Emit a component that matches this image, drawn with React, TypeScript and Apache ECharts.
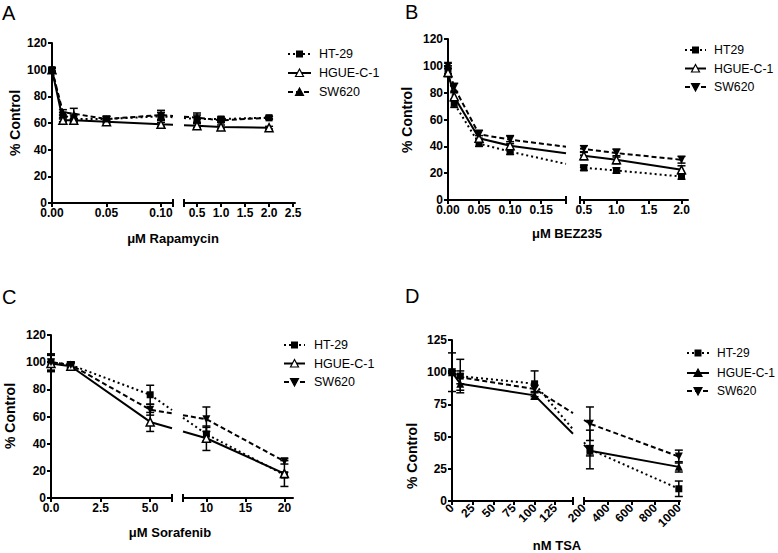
import { useEffect, useRef } from "react";
import * as echarts from "echarts";

const FONT = "'Liberation Sans', Arial, Helvetica, sans-serif";

// ---------------- Panel A : Rapamycin (µM) ----------------
const A_DOSE = [0, 0.01, 0.02, 0.05, 0.1, 0.5, 1.0, 2.0];
const A_HT29 = [100, 66, 63, 63, 65, 63, 63, 64];
const A_HT29_ERR = [1.5, 2, 3, 2, 3, 3, 1.5, 1];
const A_HGUE = [100, 62, 62, 61, 59, 58, 57, 56.5];
const A_HGUE_ERR = [1, 1, 1, 1, 1.5, 1.5, 1.5, 1];
const A_SW620 = [100, 68, 67, 63, 66, 64, 62, 64];
const A_SW620_ERR = [1.5, 2, 4, 2, 3.5, 3.5, 1.5, 1];
const A_TICKS_LOW = [0, 0.05, 0.1];
const A_TICKS_HIGH = [0.5, 1.0, 1.5, 2.0, 2.5];

// ---------------- Panel B : BEZ235 (µM) ----------------
const B_DOSE = [0, 0.01, 0.05, 0.1, 0.5, 1.0, 2.0];
const B_HT29 = [97, 72, 42, 36, 24, 22, 17.5];
const B_HT29_ERR = [3, 3, 2, 2, 2, 2, 2];
const B_HGUE = [95, 77, 46, 40.5, 33, 30, 22.5];
const B_HGUE_ERR = [3, 3, 2, 3, 3, 3, 3];
const B_SW620 = [100, 84, 49, 45, 38, 35, 30];
const B_SW620_ERR = [2, 3, 3, 3, 2.5, 3, 2.5];
const B_TICKS_LOW = [0, 0.05, 0.1, 0.15];
const B_TICKS_HIGH = [0.5, 1.0, 1.5, 2.0];

// ---------------- Panel C : Sorafenib (µM) ----------------
const C_DOSE = [0, 1, 5, 10, 20];
const C_HT29 = [100, 98, 76, 47, 17];
const C_HT29_ERR = [6, 2, 7, 5, 2];
const C_HGUE = [99, 97, 56, 44, 18];
const C_HGUE_ERR = [6, 2, 7, 9, 9.5];
const C_SW620 = [100, 98, 65, 58, 27];
const C_SW620_ERR = [6, 2, 4, 9, 2];
const C_TICKS_LOW = [0, 2.5, 5];
const C_TICKS_HIGH = [10, 15, 20];

// ---------------- Panel D : TSA (nM) ----------------
const D_DOSE = [0, 10, 100, 250, 1000];
const D_HT29 = [100, 97, 91, 40, 9.5];
const D_HT29_ERR = [15, 13, 10, 15, 6];
const D_HGUE = [100, 91, 82, 39, 26.5];
const D_HGUE_ERR = [1, 5, 3, 4, 4];
const D_SW620 = [100, 96, 87, 60, 34.5];
const D_SW620_ERR = [1, 5, 3, 13, 5];
const D_TICKS_LOW = [0, 25, 50, 75, 100, 125];
const D_TICKS_HIGH = [200, 400, 600, 800, 1000];

// ---------------- styles ----------------
type Mark = { symbol: string; size: number; rotate: number; hollow: boolean; dash: any };
const SQUARE_DOTTED: Mark = { symbol: "rect", size: 7, rotate: 0, hollow: false, dash: [2, 3] };
const TRI_OPEN_SOLID: Mark = { symbol: "triangle", size: 8, rotate: 0, hollow: true, dash: "solid" };
const TRI_FILLED_SOLID: Mark = { symbol: "triangle", size: 8, rotate: 0, hollow: false, dash: "solid" };
const TRI_UP_DASHED: Mark = { symbol: "triangle", size: 7, rotate: 0, hollow: false, dash: [5, 3] };
const TRI_DOWN_DASHED: Mark = { symbol: "triangle", size: 8, rotate: 180, hollow: false, dash: [5, 3] };

type Seg = { left: number; width: number; min: number; max: number };

const PANELS = [
  {
    letter: "A", letterPos: [2, 12.5], xName: "\u03BCM Rapamycin", xNamePos: [173, 238], yNamePos: [15, 123],
    top: 43, height: 160, yMax: 120, yInterval: 20,
    seg1: { left: 52, width: 121, min: 0, max: 0.111 }, seg2: { left: 184, width: 111, min: 0.23, max: 2.54 },
    ticks1: A_TICKS_LOW, ticks2: A_TICKS_HIGH, digits1: 2, digits2: 1, rotate: 0,
    dose: A_DOSE,
    series: [
      { name: "HT-29", values: A_HT29, errs: A_HT29_ERR, mark: SQUARE_DOTTED },
      { name: "HGUE-C-1", values: A_HGUE, errs: A_HGUE_ERR, mark: TRI_OPEN_SOLID },
      { name: "SW620", values: A_SW620, errs: A_SW620_ERR, mark: TRI_UP_DASHED },
    ],
    legend: { x1: 288, x2: 311, sx: 299.5, tx: 319, ys: [54, 73, 92], fs: 12.5 },
  },
  {
    letter: "B", letterPos: [405, 11.5], xName: "\u03BCM BEZ235", xNamePos: [567, 233], yNamePos: [407, 120],
    top: 39, height: 161, yMax: 120, yInterval: 20,
    seg1: { left: 448, width: 118, min: 0, max: 0.19 }, seg2: { left: 580, width: 108, min: 0.44, max: 2.1 },
    ticks1: B_TICKS_LOW, ticks2: B_TICKS_HIGH, digits1: 2, digits2: 1, rotate: 0,
    dose: B_DOSE,
    series: [
      { name: "HT29", values: B_HT29, errs: B_HT29_ERR, mark: SQUARE_DOTTED },
      { name: "HGUE-C-1", values: B_HGUE, errs: B_HGUE_ERR, mark: TRI_OPEN_SOLID },
      { name: "SW620", values: B_SW620, errs: B_SW620_ERR, mark: TRI_DOWN_DASHED },
    ],
    legend: { x1: 685, x2: 706, sx: 695.5, tx: 714, ys: [50, 68.5, 87], fs: 12.3 },
  },
  {
    letter: "C", letterPos: [2, 296.5], xName: "\u03BCM Sorafenib", xNamePos: [170, 532], yNamePos: [10, 416],
    top: 335, height: 163, yMax: 120, yInterval: 20,
    seg1: { left: 51, width: 121, min: 0, max: 6.1 }, seg2: { left: 183, width: 110, min: 7, max: 21.1 },
    ticks1: C_TICKS_LOW, ticks2: C_TICKS_HIGH, digits1: 1, digits2: 0, rotate: 0,
    dose: C_DOSE,
    series: [
      { name: "HT-29", values: C_HT29, errs: C_HT29_ERR, mark: SQUARE_DOTTED },
      { name: "HGUE-C-1", values: C_HGUE, errs: C_HGUE_ERR, mark: TRI_OPEN_SOLID },
      { name: "SW620", values: C_SW620, errs: C_SW620_ERR, mark: TRI_DOWN_DASHED },
    ],
    legend: { x1: 284, x2: 305, sx: 294.5, tx: 314, ys: [345, 363.5, 382], fs: 12.5 },
  },
  {
    letter: "D", letterPos: [405, 295.5], xName: "nM TSA", xNamePos: [557, 545.5], yNamePos: [412, 456],
    top: 340, height: 161, yMax: 125, yInterval: 25,
    seg1: { left: 452, width: 121, min: 0, max: 146.5 }, seg2: { left: 584, width: 96, min: 200, max: 1010 },
    ticks1: D_TICKS_LOW, ticks2: D_TICKS_HIGH, digits1: 0, digits2: 0, rotate: 45,
    dose: D_DOSE,
    series: [
      { name: "HT-29", values: D_HT29, errs: D_HT29_ERR, mark: SQUARE_DOTTED },
      { name: "HGUE-C-1", values: D_HGUE, errs: D_HGUE_ERR, mark: TRI_FILLED_SOLID },
      { name: "SW620", values: D_SW620, errs: D_SW620_ERR, mark: TRI_DOWN_DASHED },
    ],
    legend: { x1: 687, x2: 709, sx: 698, tx: 717, ys: [353, 373, 391], fs: 12 },
  },
];

const px = (seg: Seg, x: number) => seg.left + ((x - seg.min) / (seg.max - seg.min)) * seg.width;

function errorBarRender(params: any, api: any) {
  const x = api.value(0);
  const y = api.value(1);
  const e = api.value(2);
  const t = api.coord([x, y + e]);
  const b = api.coord([x, y - e]);
  const hw = 4;
  const st = { stroke: "#000", lineWidth: 1.5 };
  return {
    type: "group",
    children: [
      { type: "line", shape: { x1: t[0], y1: t[1], x2: b[0], y2: b[1] }, style: st },
      { type: "line", shape: { x1: t[0] - hw, y1: t[1], x2: t[0] + hw, y2: t[1] }, style: st },
      { type: "line", shape: { x1: b[0] - hw, y1: b[1], x2: b[0] + hw, y2: b[1] }, style: st },
    ],
  };
}

function legendSymbol(mark: Mark, cx: number, cy: number) {
  const fill = mark.hollow ? "#fff" : "#000";
  if (mark.symbol === "rect") {
    return { type: "rect", shape: { x: cx - 3.5, y: cy - 3.5, width: 7, height: 7 }, style: { fill: "#000" }, z: 10 };
  }
  const h = 4;
  const pts =
    mark.rotate === 180
      ? [[cx - h, cy - h + 0.5], [cx + h, cy - h + 0.5], [cx, cy + h]]
      : [[cx, cy - h], [cx - h, cy + h - 0.5], [cx + h, cy + h - 0.5]];
  return { type: "polygon", shape: { points: pts }, style: { fill, stroke: "#000", lineWidth: 1.2 }, z: 10 };
}

function buildOption() {
  const grids: any[] = [];
  const xAxes: any[] = [];
  const yAxes: any[] = [];
  const series: any[] = [];
  const graphics: any[] = [];

  PANELS.forEach((p) => {
    const segs: Seg[] = [p.seg1, p.seg2];
    const gIdx: number[] = [];
    segs.forEach((seg, k) => {
      const gi = grids.length;
      gIdx.push(gi);
      grids.push({ left: seg.left, top: p.top, width: seg.width, height: p.height, containLabel: false });
      const ticks = k === 0 ? p.ticks1 : p.ticks2;
      const digits = k === 0 ? p.digits1 : p.digits2;
      xAxes.push({
        type: "value",
        gridIndex: gi,
        min: seg.min,
        max: seg.max,
        axisLine: { show: true, onZero: false, lineStyle: { color: "#000", width: 2 } },
        axisTick: { show: true, length: 4, lineStyle: { color: "#000", width: 2 }, customValues: ticks },
        axisLabel: {
          customValues: ticks,
          formatter: (v: number) => v.toFixed(digits),
          color: "#000",
          fontFamily: FONT,
          fontWeight: "bold",
          fontSize: 12,
          margin: p.rotate ? 5 : 4,
          rotate: p.rotate,
        },
        splitLine: { show: false },
      });
      yAxes.push({
        type: "value",
        gridIndex: gi,
        min: 0,
        max: p.yMax,
        interval: p.yInterval,
        show: k === 0,
        axisLine: { show: true, lineStyle: { color: "#000", width: 2 } },
        axisTick: { show: true, length: 4, lineStyle: { color: "#000", width: 2 } },
        axisLabel: { color: "#000", fontFamily: FONT, fontWeight: "bold", fontSize: 12, margin: 5 },
        splitLine: { show: false },
      });
    });

    p.series.forEach((s) => {
      const pts = p.dose.map((d, i) => ({ x: d, y: s.values[i], e: s.errs[i] }));
      const low = pts.filter((q) => q.x <= p.seg1.max);
      const high = pts.filter((q) => q.x >= p.seg2.min);
      const a = low[low.length - 1];
      const b = high[0];
      const pa = px(p.seg1, a.x);
      const pb = px(p.seg2, b.x);
      const yAt = (X: number) => a.y + ((b.y - a.y) * (X - pa)) / (pb - pa);
      const edge1 = p.seg1.left + p.seg1.width;
      const edge2 = p.seg2.left;
      const lowData: any[] = low.map((q) => [q.x, q.y]);
      lowData.push({ value: [p.seg1.max, yAt(edge1)], symbol: "none" });
      const highData: any[] = [{ value: [p.seg2.min, yAt(edge2)], symbol: "none" }, ...high.map((q) => [q.x, q.y])];
      const m = s.mark;
      [lowData, highData].forEach((data, k) => {
        series.push({
          type: "line",
          name: s.name,
          xAxisIndex: gIdx[k],
          yAxisIndex: gIdx[k],
          data,
          symbol: m.symbol,
          symbolSize: m.size,
          symbolRotate: m.rotate,
          showSymbol: true,
          clip: false,
          z: 3,
          lineStyle: { color: "#000", width: 2, type: m.dash },
          itemStyle: { color: m.hollow ? "#fff" : "#000", borderColor: "#000", borderWidth: m.hollow ? 1.5 : 0 },
          emphasis: { disabled: true },
          silent: true,
        });
        const pp = k === 0 ? low : high;
        series.push({
          type: "custom",
          xAxisIndex: gIdx[k],
          yAxisIndex: gIdx[k],
          z: 2,
          silent: true,
          encode: { x: 0, y: 1 },
          data: pp.map((q) => [q.x, q.y, q.e]),
          renderItem: errorBarRender,
        });
      });
    });

    // axis break caps
    const yb = p.top + p.height;
    [p.seg1.left + p.seg1.width, p.seg2.left].forEach((x) => {
      graphics.push({ type: "line", shape: { x1: x, y1: yb - 4, x2: x, y2: yb + 4 }, style: { stroke: "#000", lineWidth: 2 }, z: 10 });
    });

    // panel letter
    graphics.push({
      type: "text", x: p.letterPos[0], y: p.letterPos[1],
      style: { text: p.letter, fontFamily: FONT, fontSize: 20, fill: "#000", textAlign: "left", textVerticalAlign: "middle" },
    });
    // x axis name
    graphics.push({
      type: "text", x: p.xNamePos[0], y: p.xNamePos[1],
      style: { text: p.xName, fontFamily: FONT, fontSize: 13, fontWeight: "bold", fill: "#000", textAlign: "center", textVerticalAlign: "middle" },
    });
    // y axis name
    graphics.push({
      type: "text", x: p.yNamePos[0], y: p.yNamePos[1], rotation: Math.PI / 2,
      style: { text: "% Control", fontFamily: FONT, fontSize: 14, fontWeight: "bold", fill: "#000", textAlign: "center", textVerticalAlign: "middle" },
    });
    // legend
    p.series.forEach((s, i) => {
      const y = p.legend.ys[i];
      graphics.push({
        type: "line", shape: { x1: p.legend.x1, y1: y, x2: p.legend.x2, y2: y },
        style: { stroke: "#000", lineWidth: 2, lineDash: s.mark.dash === "solid" ? null : s.mark.dash }, z: 9,
      });
      graphics.push(legendSymbol(s.mark, p.legend.sx, y));
      graphics.push({
        type: "text", x: p.legend.tx, y,
        style: { text: s.name, fontFamily: FONT, fontSize: p.legend.fs, fill: "#000", textAlign: "left", textVerticalAlign: "middle" },
      });
    });
  });

  return {
    animation: false,
    backgroundColor: "#fff",
    grid: grids,
    xAxis: xAxes,
    yAxis: yAxes,
    series,
    graphic: { elements: graphics },
  };
}

export default function App() {
  const ref = useRef<HTMLDivElement>(null);
  useEffect(() => {
    if (!ref.current) return;
    const chart = echarts.init(ref.current, undefined, { renderer: "svg" });
    chart.setOption(buildOption() as any);
    return () => chart.dispose();
  }, []);
  return <div ref={ref} style={{ position: "absolute", left: 0, top: 0, width: 778, height: 553, background: "#fff" }} />;
}
